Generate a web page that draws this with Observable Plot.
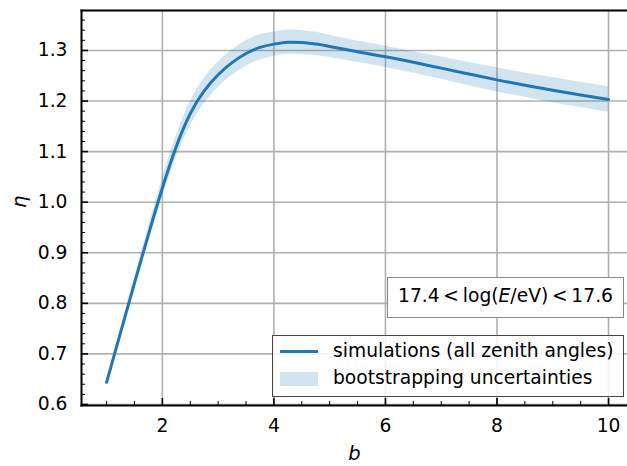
<!DOCTYPE html>
<html><head><meta charset="utf-8">
<script src="https://cdn.jsdelivr.net/npm/d3@7"></script>
<script src="https://cdn.jsdelivr.net/npm/@observablehq/plot@0.6"></script>
<style>
body{margin:0;background:#fff;}
#wrap{position:relative;width:627px;height:466px;font-family:"DejaVu Sans",sans-serif;}
#wrap svg{font-family:"DejaVu Sans",sans-serif;}
.legend{position:absolute;left:272px;top:335px;width:352px;height:62px;border:1px solid #444;background:rgba(255,255,255,0.85);box-sizing:border-box;font-size:18.7px;color:#000;}
.legend .sw-line{position:absolute;left:7px;width:38px;height:3px;background:#1f77b4;}
.legend .sw-patch{position:absolute;left:7px;width:38px;height:14px;background:rgba(31,119,180,0.2);}
.legend .lbl{position:absolute;left:60px;line-height:22px;white-space:nowrap;}
.ebox{position:absolute;left:387px;top:277px;width:237px;height:41px;border:1px solid #888;background:#fff;box-sizing:border-box;font-size:18.7px;text-align:center;line-height:35px;padding-bottom:4px;white-space:nowrap;}
</style>
</head><body>
<div id="wrap"></div>
<script>
const bValues = [1, 1.25, 1.5, 1.75, 2, 2.25, 2.5, 2.75, 3, 3.25, 3.5, 3.75, 4, 4.25, 4.5, 4.75, 5, 5.5, 6, 6.5, 7, 7.5, 8, 8.5, 9, 9.5, 10];
const eta      = [0.644, 0.742, 0.840, 0.936, 1.028, 1.110, 1.175, 1.220, 1.252, 1.276, 1.294, 1.306, 1.3125, 1.3163, 1.3155, 1.3128, 1.308, 1.2975, 1.2875, 1.2765, 1.265, 1.2533, 1.2418, 1.2314, 1.2215, 1.212, 1.203];
const etaLower = [0.641, 0.735, 0.829, 0.921, 1.009, 1.088, 1.151, 1.195, 1.227, 1.251, 1.269, 1.281, 1.2885, 1.2923, 1.2915, 1.2898, 1.286, 1.2765, 1.2665, 1.2555, 1.243, 1.2303, 1.2178, 1.2074, 1.1965, 1.187, 1.178];
const etaUpper = [0.647, 0.749, 0.851, 0.951, 1.047, 1.132, 1.199, 1.245, 1.277, 1.301, 1.319, 1.331, 1.3365, 1.3403, 1.3395, 1.3358, 1.330, 1.3185, 1.3085, 1.2975, 1.287, 1.2763, 1.2658, 1.2554, 1.2465, 1.237, 1.228];
const xTicks = [2, 4, 6, 8, 10];
const xMinorTicks = [1, 1.5, 2.5, 3, 3.5, 4.5, 5, 5.5, 6.5, 7, 7.5, 8.5, 9, 9.5];
const yTicks = [0.6, 0.7, 0.8, 0.9, 1.0, 1.1, 1.2, 1.3];
const yMinorTicks = [0.62, 0.64, 0.66, 0.68, 0.72, 0.74, 0.76, 0.78, 0.82, 0.84, 0.86, 0.88, 0.92, 0.94, 0.96, 0.98, 1.02, 1.04, 1.06, 1.08, 1.12, 1.14, 1.16, 1.18, 1.22, 1.24, 1.26, 1.28, 1.32, 1.34, 1.36];
const legendLabels = ["simulations (all zenith angles)", "bootstrapping uncertainties"];
const xLabel = "b";
const yLabel = "η";
const energyRange = [17.4, 17.6];

const rows = bValues.map((b, i) => ({b, eta: eta[i], lo: etaLower[i], hi: etaUpper[i]}));
const blue = "#1f77b4";
const gridColor = "#b0b0b0";
const W = 627, H = 466, ml = 81, mr = 0, mt = 10, mb = 61;
const plotH = H - mt - mb, plotW = W - ml - mr;

const chart = Plot.plot({
  width: W, height: H,
  marginLeft: ml, marginRight: mr, marginTop: mt, marginBottom: mb,
  style: {fontFamily: "DejaVu Sans", fontSize: "18.7px", background: "#fff", color: "#000", overflow: "visible"},
  x: {domain: [0.55, 10.34], ticks: xTicks, tickFormat: d => String(d), label: null},
  y: {domain: [0.598, 1.379], ticks: yTicks, tickFormat: d => d.toFixed(1), label: null},
  marks: [
    Plot.gridX(xTicks, {stroke: gridColor, strokeOpacity: 1, strokeWidth: 1.6}),
    Plot.gridY(yTicks, {stroke: gridColor, strokeOpacity: 1, strokeWidth: 1.6}),
    Plot.areaY(rows, {x: "b", y1: "lo", y2: "hi", fill: blue, fillOpacity: 0.2, curve: "natural"}),
    Plot.lineY(rows, {x: "b", y: "eta", stroke: blue, strokeWidth: 3, curve: "natural"}),
    Plot.tickX(xTicks, {x: d => d, stroke: "#000", strokeWidth: 1.6, insetTop: plotH - 7}),
    Plot.tickX(xMinorTicks, {x: d => d, stroke: "#000", strokeWidth: 1, insetTop: plotH - 4}),
    Plot.tickY(yTicks, {y: d => d, stroke: "#000", strokeWidth: 1.6, insetRight: plotW - 7}),
    Plot.tickY(yMinorTicks, {y: d => d, stroke: "#000", strokeWidth: 1, insetRight: plotW - 4}),
    Plot.axisX({ticks: xTicks, tickSize: 0, tickPadding: 13, tickFormat: d => String(d), label: null}),
    Plot.axisY({ticks: yTicks, tickSize: 0, tickPadding: 14, tickFormat: d => d.toFixed(1), label: null}),
    Plot.frame({anchor: "left", stroke: "#000", strokeWidth: 2}),
    Plot.frame({anchor: "bottom", stroke: "#000", strokeWidth: 2}),
    Plot.frame({anchor: "top", stroke: "#000", strokeWidth: 2}),
    Plot.text([xLabel], {frameAnchor: "bottom", dy: 54, fontStyle: "italic", fontSize: 19.5, text: d => d}),
    Plot.text([yLabel], {frameAnchor: "left", dx: -62, rotate: -90, fontStyle: "italic", fontSize: 19.5, text: d => d})
  ]
});
const wrap = document.getElementById("wrap");
wrap.appendChild(chart);

const eb = document.createElement("div");
eb.className = "ebox";
eb.innerHTML = `${energyRange[0]}&thinsp;&lt;&thinsp;log(<i>E</i>/eV)&thinsp;&lt;&thinsp;${energyRange[1]}`;
wrap.appendChild(eb);

const lg = document.createElement("div");
lg.className = "legend";
lg.innerHTML = `
  <div class="sw-line" style="top:14px"></div><div class="lbl" style="top:4px">${legendLabels[0]}</div>
  <div class="sw-patch" style="top:36px"></div><div class="lbl" style="top:31px">${legendLabels[1]}</div>`;
wrap.appendChild(lg);
</script>
</body></html>
